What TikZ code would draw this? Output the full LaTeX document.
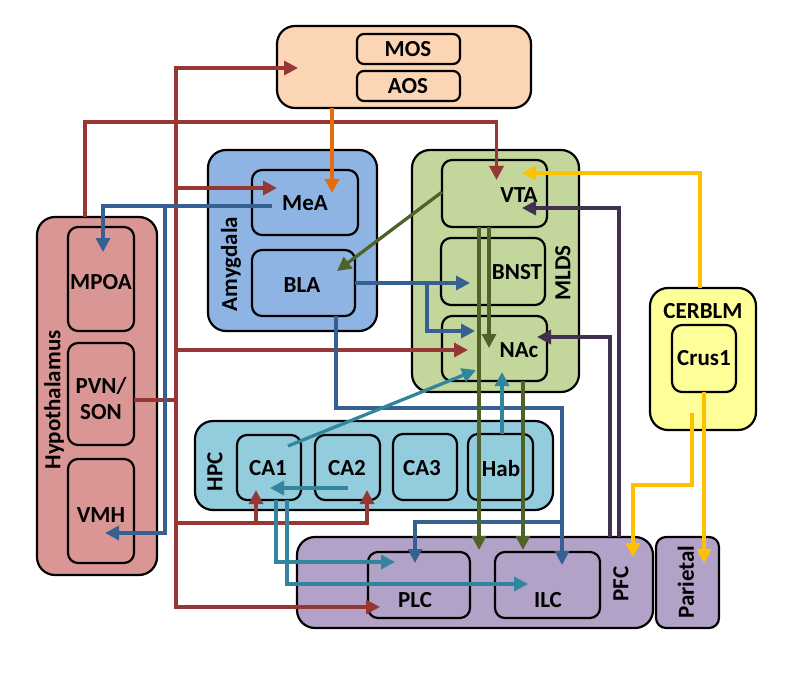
\documentclass[tikz,border=0pt]{standalone}
\usepackage{fontspec}
\setmainfont{Carlito}
\usetikzlibrary{arrows.meta}
\usetikzlibrary{calc}
\definecolor{olfc}{HTML}{FCD5B5}
\definecolor{amygc}{HTML}{8DB4E2}
\definecolor{mldsc}{HTML}{C3D69B}
\definecolor{cerc}{HTML}{FFFF99}
\definecolor{hypc}{HTML}{D99694}
\definecolor{hpcc}{HTML}{93CDDD}
\definecolor{pfcc}{HTML}{B3A2C7}
\definecolor{redc}{HTML}{963735}
\definecolor{bluec}{HTML}{376092}
\definecolor{tealc}{HTML}{31859C}
\definecolor{olivec}{HTML}{4F6228}
\definecolor{purpc}{HTML}{403151}
\definecolor{orngc}{HTML}{E46C0A}
\definecolor{goldc}{HTML}{FFC000}
\tikzset{region/.style={draw=black,line width=2.2pt,rounded corners=18pt,inner sep=0pt,outer sep=0pt}}
\tikzset{area/.style={draw=black,line width=2.2pt,rounded corners=10pt,inner sep=0pt,outer sep=0pt}}
\tikzset{lbl/.style={font=\bfseries\fontsize{23}{26}\selectfont,inner sep=0pt,align=center}}
\tikzset{arr/.style={line width=3.3pt,-{Triangle[length=14pt,width=14pt]}}}

\begin{document}
\begin{tikzpicture}[x=1pt,y=-1pt]
\useasboundingbox (0,0) rectangle (800,679);
\node[region,fill=olfc,minimum width=254pt,minimum height=82pt] (olf) at (404,67) {};
\node[area,rounded corners=7pt,fill=olfc,minimum width=103pt,minimum height=30pt] (mos) at (408.5,49) {};
\node[area,rounded corners=7pt,fill=olfc,minimum width=103pt,minimum height=30pt] (aos) at (408.5,86) {};
\node[region,fill=amygc,minimum width=169pt,minimum height=181pt] (amyg) at (292.5,240.5) {};
\node[area,fill=amygc,minimum width=106pt,minimum height=65pt] (mea) at (305,202.5) {};
\node[area,fill=amygc,minimum width=103pt,minimum height=66pt] (bla) at (303.5,283) {};
\node[region,fill=mldsc,minimum width=167pt,minimum height=242pt] (mlds) at (495.5,271) {};
\node[area,fill=mldsc,minimum width=105pt,minimum height=67pt] (vta) at (494.5,193.5) {};
\node[area,fill=mldsc,minimum width=104pt,minimum height=67pt] (bnst) at (493,271.5) {};
\node[area,fill=mldsc,minimum width=105pt,minimum height=65pt] (nac) at (494.5,348.5) {};
\node[region,fill=cerc,minimum width=106pt,minimum height=142pt] (cer) at (703,359) {};
\node[area,fill=cerc,minimum width=64pt,minimum height=67pt] (crus) at (704,358.5) {};
\node[region,fill=hypc,minimum width=120pt,minimum height=358pt] (hyp) at (97,396) {};
\node[area,fill=hypc,minimum width=66pt,minimum height=104pt] (mpoa) at (101,279) {};
\node[area,fill=hypc,minimum width=66pt,minimum height=102pt] (pvn) at (101,394) {};
\node[area,fill=hypc,minimum width=66pt,minimum height=104pt] (vmh) at (101,511) {};
\node[region,fill=hpcc,minimum width=358pt,minimum height=89pt] (hpc) at (374,465.5) {};
\node[area,fill=hpcc,minimum width=64pt,minimum height=65pt] (ca1) at (269,467.5) {};
\node[area,fill=hpcc,minimum width=65pt,minimum height=65pt] (ca2) at (347.5,467.5) {};
\node[area,fill=hpcc,minimum width=64pt,minimum height=66pt] (ca3) at (425,467) {};
\node[area,fill=hpcc,minimum width=65pt,minimum height=66pt] (hab) at (500.5,467) {};
\node[region,fill=pfcc,minimum width=356pt,minimum height=91pt] (pfc) at (475,582.5) {};
\node[area,fill=pfcc,minimum width=102pt,minimum height=66pt] (plc) at (419,585) {};
\node[area,fill=pfcc,minimum width=105pt,minimum height=66pt] (ilc) at (547.5,585) {};
\node[area,fill=pfcc,minimum width=63pt,minimum height=91pt] (par) at (687.5,582.5) {};

\node[lbl] (mosT) at (408,49) {MOS};
\node[lbl] (aosT) at (408,86) {AOS};
\node[lbl] (meaT) at (305,203) {MeA};
\node[lbl] (blaT) at (302,285) {BLA};
\node[lbl,rotate=90] (amygT) at (231,264) {Amygdala};
\node[lbl] (vtaT) at (519,195) {VTA};
\node[lbl] (bnstT) at (517,272) {BNST};
\node[lbl] (nacT) at (519,350) {NAc};
\node[lbl,rotate=90] (mldsT) at (563,273) {MLDS};
\node[lbl] (cerT) at (703,311) {CERBLM};
\node[lbl] (crusT) at (704,358) {Crus1};
\node[lbl,rotate=90] (hypT) at (54,400) {Hypothalamus};
\node[lbl] (mpoaT) at (101,282) {MPOA};
\node[lbl] (pvnT) at (101,399) {PVN/\\SON};
\node[lbl] (vmhT) at (101,515) {VMH};
\node[lbl,rotate=90] (hpcT) at (215,472) {HPC};
\node[lbl] (ca1T) at (268,468) {CA1};
\node[lbl] (ca2T) at (347,468) {CA2};
\node[lbl] (ca3T) at (422,468) {CA3};
\node[lbl] (habT) at (501,469) {Hab};
\node[lbl] (plcT) at (415,600) {PLC};
\node[lbl] (ilcT) at (548,600) {ILC};
\node[lbl,rotate=90] (pfcT) at (621,584) {PFC};
\node[lbl,rotate=90] (parT) at (686,582) {Parietal};

\draw[arr,redc] ($(hyp.north)+(-12,0)$) -- ++(0,-95) -| ($(vta.north)+(2,20)$);
\draw[arr,redc] ($(pvn.east)+(0,6)$) -- ++(42,0) |- ($(olf.west)+(21,1)$);
\draw[arr,redc] ($(pvn.east)+(0,6)$) -- ++(42,0) |- ($(mea.west)+(25,-14.5)$);
\draw[arr,redc] ($(pvn.east)+(0,6)$) -- ++(42,0) |- ($(nac.west)+(26,1.5)$);
\draw[arr,redc] ($(pvn.east)+(0,6)$) -- ++(42,0) |- ($(plc.west)+(12,22)$);
\draw[arr,redc] ($(pvn.east)+(0,6)$) -- ++(42,0) |- ($(ca2.south)+(19.5,23)$) -- ($(ca2.south)+(19.5,-10)$);
\draw[arr,redc] ($(ca1.south)+(-13,23)$) -- ($(ca1.south)+(-13,-10)$);
\draw[arr,bluec] ($(mea.west)+(20,3.5)$) -| ($(mpoa.north)+(2,25)$);
\draw[arr,bluec] ($(mea.west)+(-87,3.5)$) |- ($(vmh.center)+(4,22)$);
\draw[arr,bluec] (bla.east) -- ($(bnst.west)+(29,11.5)$);
\draw[arr,bluec] ($(bla.east)+(72,0)$) |- ($(nac.west)+(33,-17.5)$);
\draw[arr,bluec] ($(bla.south)+(32.5,0)$) -- ++(0,92) -| ($(ilc.north)+(14.5,13)$);
\draw[arr,bluec] ($(ilc.north)+(14.5,-30)$) -| ($(plc.north)+(-4,11)$);
\draw[arr,tealc] ($(ca1.north)+(19,11)$) -- ($(nac.south)+(-18.5,-11)$);
\draw[arr,tealc] ($(ca2.center)+(0,20.5)$) -- ($(ca1.center)+(1,20.5)$);
\draw[arr,tealc] ($(ca1.south)+(7,0)$) |- ($(plc.west)+(27,-23)$);
\draw[arr,tealc] ($(ca1.south)+(18,0)$) |- ($(ilc.west)+(33,-1)$);
\draw[arr,tealc] ($(hab.north)+(1.5,0)$) -- ($(nac.south)+(7.5,-9)$);
\draw[arr,olivec] ($(vta.west)+(0,-1.5)$) -- ($(bla.center)+(33.5,-12)$);
\draw[arr,olivec] ($(vta.south)+(-5.5,0)$) -- ($(nac.south)+(-5.5,-33)$);
\draw[arr,olivec] ($(vta.south)+(-15.5,0)$) -- ($(pfc.north)+(4,13)$);
\draw[arr,olivec] ($(nac.south)+(28.5,0)$) -- ($(ilc.north)+(-24.5,-2)$);
\draw[arr,purpc] ($(pfc.north)+(144,0)$) |- ($(vta.east)+(-25,14.5)$);
\draw[arr,purpc] ($(pfc.north)+(135,0)$) |- ($(nac.east)+(-10,-11.5)$);
\draw[arr,orngc] ($(olf.south)+(-72,0)$) -- ($(mea.north)+(27,23)$);
\draw[arr,goldc] ($(cer.north)+(-3,0)$) |- ($(vta.east)+(-25,-20.5)$);
\draw[arr,goldc] ($(cer.south)+(-11,-17)$) -- ++(0,72) -| ($(pfc.east)+(-20,-25.5)$);
\draw[arr,goldc] (crus.south) -- ($(par.north)+(16.5,26)$);
\end{tikzpicture}
\end{document}
